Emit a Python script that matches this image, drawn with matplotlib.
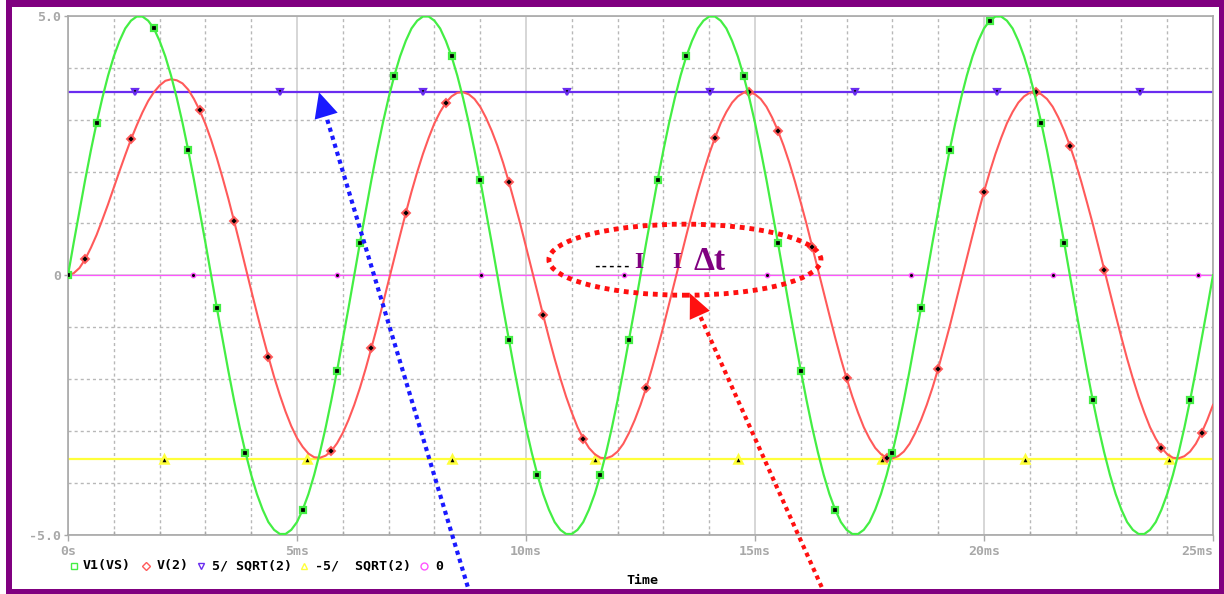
import numpy as np
import matplotlib.pyplot as plt
from matplotlib.patches import Ellipse, Rectangle, Polygon
from matplotlib.lines import Line2D

W, H = 1224, 594

# transient run, 0 .. 25 ms, sampled every 0.125 ms
time_ms = np.linspace(0, 25, 201)

v1_vs = [
    0.00, 0.63, 1.24, 1.84, 2.41, 2.94, 3.42, 3.85, 4.22, 4.52, 4.76, 4.91, 4.99,
    4.99, 4.91, 4.76, 4.52, 4.22, 3.85, 3.42, 2.94, 2.41, 1.84, 1.24, 0.63,
    0.00, -0.63, -1.24, -1.84, -2.41, -2.94, -3.42, -3.85, -4.22, -4.52, -4.76, -4.91, -4.99,
    -4.99, -4.91, -4.76, -4.52, -4.22, -3.85, -3.42, -2.94, -2.41, -1.84, -1.24, -0.63,
    0.00, 0.63, 1.24, 1.84, 2.41, 2.94, 3.42, 3.85, 4.22, 4.52, 4.76, 4.91, 4.99,
    4.99, 4.91, 4.76, 4.52, 4.22, 3.85, 3.42, 2.94, 2.41, 1.84, 1.24, 0.63,
    0.00, -0.63, -1.24, -1.84, -2.41, -2.94, -3.42, -3.85, -4.22, -4.52, -4.76, -4.91, -4.99,
    -4.99, -4.91, -4.76, -4.52, -4.22, -3.85, -3.42, -2.94, -2.41, -1.84, -1.24, -0.63,
    0.00, 0.63, 1.24, 1.84, 2.41, 2.94, 3.42, 3.85, 4.22, 4.52, 4.76, 4.91, 4.99,
    4.99, 4.91, 4.76, 4.52, 4.22, 3.85, 3.42, 2.94, 2.41, 1.84, 1.24, 0.63,
    0.00, -0.63, -1.24, -1.84, -2.41, -2.94, -3.42, -3.85, -4.22, -4.52, -4.76, -4.91, -4.99,
    -4.99, -4.91, -4.76, -4.52, -4.22, -3.85, -3.42, -2.94, -2.41, -1.84, -1.24, -0.63,
    0.00, 0.63, 1.24, 1.84, 2.41, 2.94, 3.42, 3.85, 4.22, 4.52, 4.76, 4.91, 4.99,
    4.99, 4.91, 4.76, 4.52, 4.22, 3.85, 3.42, 2.94, 2.41, 1.84, 1.24, 0.63,
    0.00, -0.63, -1.24, -1.84, -2.41, -2.94, -3.42, -3.85, -4.22, -4.52, -4.76, -4.91, -4.99,
    -4.99, -4.91, -4.76, -4.52, -4.22, -3.85, -3.42, -2.94, -2.41, -1.84, -1.24, -0.63,
    0.00,
]

v_2 = [
    0.00, 0.04, 0.14, 0.31, 0.53, 0.78, 1.07, 1.37, 1.69, 2.01, 2.32, 2.62, 2.89,
    3.14, 3.36, 3.53, 3.66, 3.75, 3.78, 3.76, 3.70, 3.58, 3.40, 3.18, 2.92,
    2.61, 2.26, 1.88, 1.48, 1.05, 0.61, 0.16, -0.29, -0.73, -1.16, -1.57, -1.96, -2.31,
    -2.63, -2.91, -3.14, -3.31, -3.44, -3.51, -3.52, -3.48, -3.39, -3.24, -3.04, -2.79,
    -2.50, -2.17, -1.80, -1.40, -0.99, -0.55, -0.11, 0.33, 0.77, 1.20, 1.61, 1.99, 2.34,
    2.65, 2.93, 3.15, 3.33, 3.45, 3.52, 3.53, 3.49, 3.40, 3.25, 3.04, 2.79,
    2.50, 2.17, 1.80, 1.40, 0.99, 0.55, 0.11, -0.33, -0.77, -1.20, -1.61, -1.99, -2.34,
    -2.65, -2.93, -3.15, -3.33, -3.45, -3.52, -3.53, -3.49, -3.40, -3.25, -3.04, -2.79,
    -2.50, -2.17, -1.80, -1.40, -0.99, -0.55, -0.11, 0.33, 0.77, 1.20, 1.61, 1.99, 2.34,
    2.65, 2.93, 3.15, 3.33, 3.45, 3.52, 3.53, 3.49, 3.40, 3.25, 3.04, 2.79,
    2.50, 2.17, 1.80, 1.40, 0.99, 0.55, 0.11, -0.33, -0.77, -1.20, -1.61, -1.99, -2.34,
    -2.65, -2.93, -3.15, -3.33, -3.45, -3.52, -3.53, -3.49, -3.40, -3.25, -3.04, -2.79,
    -2.50, -2.17, -1.80, -1.40, -0.99, -0.55, -0.11, 0.33, 0.77, 1.20, 1.61, 1.99, 2.34,
    2.65, 2.93, 3.15, 3.33, 3.45, 3.52, 3.53, 3.49, 3.40, 3.25, 3.04, 2.79,
    2.50, 2.17, 1.80, 1.40, 0.99, 0.55, 0.11, -0.33, -0.77, -1.20, -1.61, -1.99, -2.34,
    -2.65, -2.93, -3.15, -3.33, -3.45, -3.52, -3.53, -3.49, -3.40, -3.25, -3.04, -2.79,
    -2.50,
]

v_level = 5 / np.sqrt(2)

# sample indices that carry a trace marker
v1_marks = [0, 5, 15, 21, 26, 31, 41, 47, 51, 57, 67, 72, 77, 82, 93, 98, 103, 108,
            118, 124, 128, 134, 144, 149, 154, 161, 170, 174, 179, 196]
v2_marks = [3, 11, 23, 29, 35, 46, 53, 59, 66, 77, 83, 90, 101, 113, 119, 124, 130,
            136, 143, 152, 160, 169, 175, 181, 191, 198]
hi_mark_t = [1.46, 4.63, 7.75, 10.90, 14.02, 17.18, 20.28, 23.41]
lo_mark_t = [2.10, 5.22, 8.38, 11.51, 14.63, 17.77, 20.90, 24.04]
zero_mark_t = [2.73, 5.87, 9.02, 12.14, 15.26, 18.40, 21.50, 24.67]

x_ticks = [0, 5, 10, 15, 20, 25]
x_tick_labels = ['0s', '5ms', '10ms', '15ms', '20ms', '25ms']
y_ticks = [-5, 0, 5]
y_tick_labels = ['-5.0', '0', '5.0']

legend_labels = ['V1(VS)', 'V(2)', '5/ SQRT(2)', '-5/  SQRT(2)', '0']

GREEN = '#44ee44'
RED = '#ff5a5a'
BLUE = '#6a2cf0'
YELLOW = '#ffff3a'
MAGENTA = '#ff55ff'
GREY = '#a8a8a8'
PURPLE = '#800080'

mono = 'DejaVu Sans Mono'


def px(x, y):
    # image-style pixel position -> figure fraction
    return x / W, 1 - y / H


fig = plt.figure(figsize=(W / 100, H / 100), dpi=100)
ax = fig.add_axes([68 / W, 59.5 / H, 1145 / W, 518.5 / H])
ax.set_xlim(0, 25)
ax.set_ylim(-5, 5)

# grid: solid at the 5 ms marks, dashed every 1 ms / 1 V
ax.set_axisbelow(True)
ax.set_xticks(x_ticks)
ax.set_xticklabels(x_tick_labels)
ax.set_xticks(np.arange(0, 26, 1), minor=True)
ax.set_yticks(y_ticks)
ax.set_yticklabels(y_tick_labels)
ax.set_yticks(np.arange(-5, 6, 1), minor=True)
ax.grid(which='major', color='#cccccc', lw=1.1, ls='-')
ax.grid(which='minor', color='#b8b8b8', lw=1.0, ls=(0, (2.2, 2.2)))

for s in ax.spines.values():
    s.set_color(GREY)
    s.set_linewidth(1.2)
ax.tick_params(axis='x', which='major', direction='out', length=4.3, width=1,
               color=GREY, pad=3.5, labelcolor=GREY, labelsize=9.5)
ax.tick_params(axis='x', which='minor', direction='in', length=3, width=1, color=GREY)
ax.tick_params(axis='y', which='major', direction='out', length=3, width=1,
               color=GREY, pad=2, labelcolor=GREY, labelsize=9.5)
ax.tick_params(axis='y', which='minor', length=0)
for lab in ax.get_xticklabels() + ax.get_yticklabels():
    lab.set_fontfamily(mono)
    lab.set_fontweight('bold')
ax.get_xticklabels()[-1].set_horizontalalignment('right')

# traces
ax.axhline(0, color=MAGENTA, lw=0.9, zorder=2)
ax.plot(zero_mark_t, [0] * len(zero_mark_t), ls='none', marker='o', ms=3.2,
        mfc='black', mec=MAGENTA, mew=1, zorder=3)
ax.axhline(-v_level, color=YELLOW, lw=1.6, zorder=2)
ax.plot(lo_mark_t, [-v_level] * len(lo_mark_t), ls='none', marker='^', ms=5.5,
        mfc='black', mec=YELLOW, mew=1.8, zorder=3)
ax.axhline(v_level, color=BLUE, lw=1.6, zorder=2)
ax.plot(hi_mark_t, [v_level] * len(hi_mark_t), ls='none', marker='v', ms=5,
        mfc='black', mec=BLUE, mew=1.6, zorder=3)
ax.plot(time_ms, v_2, color=RED, lw=1.5, zorder=4,
        marker='D', markevery=v2_marks, ms=3.6, mfc='black', mec=RED, mew=1.4)
ax.plot(time_ms, v1_vs, color=GREEN, lw=1.6, zorder=5,
        marker='s', markevery=v1_marks, ms=4.4, mfc='black', mec=GREEN, mew=1.6)

# legend row under the plot
legend_style = [('s', GREEN), ('D', RED), ('v', BLUE), ('^', YELLOW), ('o', MAGENTA)]
legend_sym_x = [74, 146, 201, 304, 424]
legend_txt_x = [83, 157, 212, 315, 435]
for (m, c), sx, tx, lab in zip(legend_style, legend_sym_x, legend_txt_x, legend_labels):
    fig.add_artist(Line2D([sx / W], [1 - 566 / H], transform=fig.transFigure,
                          ls='none', marker=m, ms=5 if m != 'D' else 4,
                          mfc='none', mec=c, mew=1))
    fig.text(*px(tx, 566), lab, ha='left', va='center', family=mono,
             weight='bold', size=9.5, color='black')
fig.text(*px(642, 581), 'Time', ha='center', va='center', family=mono,
         weight='bold', size=9.5, color='black')


def dotted_arrow(tail, tip, color, lw, head_len=25, head_w=24):
    # dotted shaft in data space, solid triangular head sized in pixels
    to_px = ax.transData.transform
    to_data = ax.transData.inverted().transform
    p_tail, p_tip = to_px(tail), to_px(tip)
    d = p_tip - p_tail
    d = d / np.hypot(*d)
    n = np.array([-d[1], d[0]])
    p_base = p_tip - d * head_len
    base = to_data(p_base)
    ax.plot([tail[0], base[0]], [tail[1], base[1]], color=color, lw=lw,
            ls=(0, (1, 1)), solid_capstyle='butt', clip_on=False, zorder=10)
    tri = [to_data(p_tip), to_data(p_base + n * head_w / 2), to_data(p_base - n * head_w / 2)]
    ax.add_patch(Polygon(tri, closed=True, fc=color, ec='none', clip_on=False, zorder=10))


dotted_arrow((8.78, -6.16), (5.48, 3.53), '#1a1aff', 3.0)
dotted_arrow((16.53, -6.16), (13.58, -0.35), '#ff1010', 3.0, head_len=24, head_w=22)

ax.add_patch(Ellipse((13.47, 0.30), 5.94, 1.37, fill=False, ec='#ff1010',
                     lw=3.5, ls=(0, (1, 1)), zorder=10))

fig.text(*px(593, 266), '-----', ha='left', va='center', family=mono,
         weight='bold', size=9, color='black')
fig.text(*px(639, 263), 'I', ha='center', va='center', family='Liberation Serif',
         weight='bold', size=17, color=PURPLE)
fig.text(*px(677, 263), 'I', ha='center', va='center', family='Liberation Serif',
         weight='bold', size=17, color=PURPLE)
fig.text(*px(694, 262), '\u0394t', ha='left', va='center', family='Liberation Serif',
         weight='bold', size=24, color=PURPLE)

# window frame
frame = [(6, 0, W - 6, 7), (6, 0, 6, H), (W - 5, 0, 5, H), (6, H - 5, W - 6, 5)]
for x0, y0, w, h in frame:
    fig.add_artist(Rectangle((x0 / W, 1 - (y0 + h) / H), w / W, h / H,
                             transform=fig.transFigure, fc=PURPLE, ec='none'))

fig.savefig('out.png', dpi=100)
